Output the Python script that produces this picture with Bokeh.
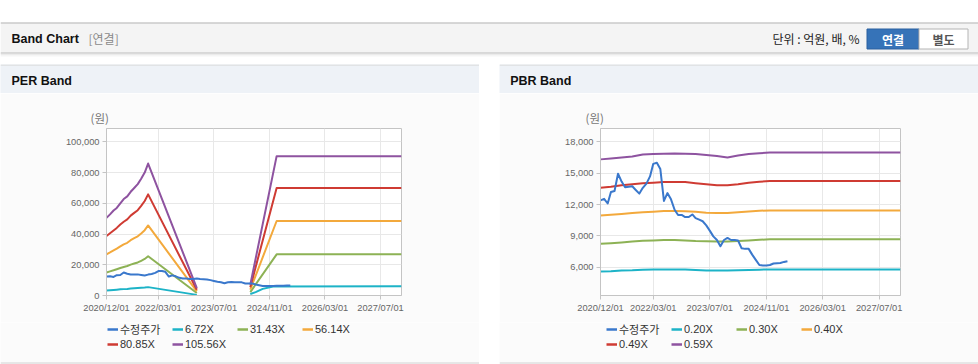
import numpy as np
import pandas as pd
from bokeh.plotting import figure
from bokeh.layouts import column, row
from bokeh.models import (Range1d, FixedTicker, DatetimeTickFormatter, NumeralTickFormatter,
                          Legend, LegendItem, Spacer)
from bokeh.embed import file_html
from bokeh.resources import INLINE
from bokeh.core.properties import value

# ---------------- data ----------------
X_START = "2020-12-01"
X_END = "2028-01-01"
X_TICKS = ["2020-12-01", "2022-03-01", "2023-07-01", "2024-11-01", "2026-03-01", "2027-07-01"]

PRICE_DATES = pd.date_range("2020-12-01", "2025-05-01", freq="MS")
PRICE = [12400, 12550, 12100, 13200, 13300, 14950, 14200, 13650, 13700, 13750, 13400, 13050,
         13600, 14000, 14700, 15900, 16000, 15400, 12350, 13100, 12500, 11500, 11000, 11000,
         10800, 10800, 11050, 10700, 10550, 10400, 10000, 9500, 8950, 8600, 8000, 8600,
         8800, 8600, 8600, 8550, 7800, 7750, 7750, 7200, 6700, 6200, 6150, 6150,
         6200, 6350, 6380, 6400, 6500, 6570]

# PER band
PER_LABELS = ["6.72X", "31.43X", "56.14X", "80.85X", "105.56X"]
PER_DATES_A = ["2020-12-01", "2021-01-01", "2021-02-01", "2021-03-01", "2021-04-01", "2021-05-01",
               "2021-06-01", "2021-07-01", "2021-08-01", "2021-09-01", "2021-10-01", "2021-11-01",
               "2021-12-01", "2023-02-01"]
PER_GAP = "2023-10-01"
PER_DATES_B = ["2024-05-15", "2025-01-01", "2028-01-01"]
PER_CYAN_DATES_B = ["2024-05-15", "2024-07-01", "2024-09-01", "2024-12-01", "2028-01-01"]
PER_672_A = [3200, 3400, 3600, 3800, 4000, 4150, 4300, 4500, 4700, 4850, 5000, 5200, 5450, 400]
PER_672_B = [1000, 2200, 4300, 5900, 6100]
PER_3143_A = [15000, 15700, 16400, 17100, 17900, 18600, 19200, 20100, 20800, 21500, 22600, 23800, 25500, 1600]
PER_3143_B = [2200, 26800, 26800]
PER_5614_A = [26800, 28000, 29300, 30500, 32000, 33300, 34300, 36000, 37300, 38500, 40400, 42500, 45600, 2700]
PER_5614_B = [3800, 48500, 48500]
PER_8085_A = [38700, 40500, 42300, 44000, 46200, 48000, 49500, 52000, 53800, 55500, 58300, 61500, 65800, 3700]
PER_8085_B = [5400, 69900, 69900]
PER_10556_A = [50500, 52800, 55300, 57000, 60000, 62800, 64500, 67500, 70000, 72500, 76000, 80000, 85900, 4800]
PER_10556_B = [7000, 90700, 90700]
PER_YTICKS = [0, 20000, 40000, 60000, 80000, 100000]

# PBR band
PBR_LABELS = ["0.20X", "0.30X", "0.40X", "0.49X", "0.59X"]
PBR_DATES = ["2020-12-01", "2021-03-01", "2021-06-01", "2021-09-01", "2021-12-01", "2022-03-01",
             "2022-06-01", "2022-09-01", "2022-12-01", "2023-03-01", "2023-06-01", "2023-09-01",
             "2023-12-01", "2024-03-01", "2024-06-01", "2024-09-01", "2024-12-01", "2028-01-01"]
PBR_020 = [5580, 5600, 5680, 5700, 5760, 5780, 5780, 5780, 5780, 5720, 5680, 5680, 5680, 5700, 5720, 5760, 5780, 5780]
PBR_030 = [8240, 8300, 8370, 8450, 8520, 8560, 8600, 8600, 8560, 8500, 8470, 8450, 8450, 8500, 8560, 8620, 8680, 8680]
PBR_040 = [10950, 11020, 11100, 11180, 11250, 11320, 11370, 11370, 11350, 11300, 11220, 11180, 11180, 11250, 11330, 11400, 11440, 11440]
PBR_049 = [13620, 13700, 13850, 13950, 14050, 14100, 14150, 14150, 14150, 14050, 13950, 13850, 13850, 13950, 14100, 14180, 14250, 14250]
PBR_059 = [16330, 16420, 16520, 16600, 16800, 16840, 16880, 16900, 16880, 16850, 16750, 16650, 16520, 16700, 16850, 16920, 16980, 16980]
PBR_YTICKS = [6000, 9000, 12000, 15000, 18000]

PRICE_LABEL = "수정주가"
UNIT_LABEL = "(원)"
COLORS = ["#1db3c7", "#8db255", "#f3a93c", "#cf3b33", "#8e53a0"]
PRICE_COLOR = "#3a78cc"

LATIN = "Liberation Sans"
KR = "Noto Sans CJK KR"
PANEL_BG = "#fbfbfb"


def dt(lst):
    return pd.to_datetime(lst)


def ms(d):
    return pd.Timestamp(d).value / 1e6


def join(dates_a, vals_a, dates_b, vals_b):
    x = list(dt(dates_a)) + [pd.Timestamp(PER_GAP)] + list(dt(dates_b))
    y = list(vals_a) + [np.nan] + list(vals_b)
    return x, y


def chart(width, bl, br, ymin, ymax, yticks, unit_dx):
    p = figure(width=width, height=229, x_axis_type="datetime",
               x_range=Range1d(pd.Timestamp(X_START), pd.Timestamp(X_END)),
               y_range=Range1d(ymin, ymax), output_backend="svg", toolbar_location=None,
               min_border_left=bl, min_border_right=br, min_border_top=35, min_border_bottom=27,
               frame_align=False, title=UNIT_LABEL)
    p.title.align = "left"
    p.title.offset = unit_dx
    p.title.standoff = 5
    p.title.text_font = KR
    p.title.text_font_size = "11.5px"
    p.title.text_font_style = "normal"
    p.title.text_color = "#777777"
    p.border_fill_color = PANEL_BG
    p.background_fill_color = "white"
    p.outline_line_color = "#c4c4c4"
    p.xaxis.ticker = FixedTicker(ticks=[ms(d) for d in X_TICKS])
    fmt = "%Y/%m/%d"
    p.xaxis.formatter = DatetimeTickFormatter(days=fmt, months=fmt, years=fmt, hours=fmt,
                                              minutes=fmt, seconds=fmt, milliseconds=fmt,
                                              minsec=fmt, hourmin=fmt)
    p.yaxis.ticker = FixedTicker(ticks=yticks)
    p.yaxis.formatter = NumeralTickFormatter(format="0,0")
    for ax in (p.xaxis, p.yaxis):
        ax.axis_line_color = "#c4c4c4"
        ax.major_tick_line_color = "#c4c4c4"
        ax.minor_tick_line_color = None
        ax.major_tick_in = 0
        ax.major_tick_out = 4
        ax.major_label_text_font = LATIN
        ax.major_label_text_font_size = "9.3px"
        ax.major_label_text_color = "#666666"
        ax.major_label_standoff = 3
    p.grid.grid_line_color = "#e8e8e8"
    return p


def legend_fig(labels, colors):
    lf = figure(width=479, height=42, x_range=Range1d(0, 479), y_range=Range1d(42, 0),
                output_backend="svg", toolbar_location=None, min_border=0,
                x_axis_location=None, y_axis_location=None, frame_align=False)
    lf.grid.visible = False
    lf.outline_line_color = None
    lf.background_fill_color = PANEL_BG
    lf.border_fill_color = PANEL_BG
    lf.segment(x0=0, y0=40.5, x1=479, y1=40.5, line_color="#d2d2d2", line_width=1)
    items = []
    for lab, c in zip(labels, colors):
        # legend key only: a line kept outside the visible range
        r = lf.line(x=[-50, -40], y=[-50, -40], line_color=c, line_width=2.5)
        items.append(LegendItem(label=lab, renderers=[r]))
    lg = Legend(items=items, ncols=4, orientation="horizontal", location=(107, 13),
                label_text_font=LATIN + ", " + KR, label_text_font_size="11px",
                label_text_color="#333333", glyph_width=11, glyph_height=14,
                label_height=14, label_width=52, label_standoff=2, spacing=0,
                padding=0, margin=0, border_line_color=None, background_fill_alpha=0)
    lf.add_layout(lg, "center")
    return lf


# ---------------- header ----------------
hdr = figure(width=978, height=64, x_range=(0, 978), y_range=(64, 0), output_backend="svg",
             toolbar_location=None, min_border=0, x_axis_location=None, y_axis_location=None,
             frame_align=False)
hdr.grid.visible = False
hdr.outline_line_color = None
hdr.background_fill_color = "white"
hdr.border_fill_color = "white"
hdr.quad(left=0, right=978, top=22, bottom=53, fill_color="#f4f4f4", line_color=None)
hdr.segment(x0=0, y0=22.5, x1=978, y1=22.5, line_color="#b4b4b4", line_width=1)
hdr.segment(x0=0, y0=52.5, x1=978, y1=52.5, line_color="#bcbcbc", line_width=1)
hdr.segment(x0=0, y0=53.5, x1=978, y1=53.5, line_color="#dadada", line_width=1)
hdr.segment(x0=0, y0=54.5, x1=978, y1=54.5, line_color="#ebebeb", line_width=1)
hdr.segment(x0=0, y0=55.5, x1=978, y1=55.5, line_color="#f5f5f5", line_width=1)
hdr.text(x=[11], y=[38], text=["Band Chart"], text_font=value(LATIN), text_font_style="bold",
         text_font_size="12.5px", text_color="#111111", text_baseline="middle")
hdr.text(x=[88], y=[38], text=["[연결]"], text_font=value(KR), text_font_size="12px",
         text_color="#8a8a8a", text_baseline="middle")
hdr.text(x=[859], y=[38], text=["단위 : 억원, 배, %"], text_font=value(KR), text_font_size="12px",
         text_color="#222222", text_baseline="middle", text_align="right")
hdr.quad(left=866.5, right=918.5, top=28.5, bottom=48.5, fill_color="#3673b8", line_color="#2b609f")
hdr.quad(left=918.5, right=967.5, top=28.5, bottom=48.5, fill_color="white", line_color="#b4b4b4")
hdr.text(x=[892.5], y=[38.5], text=["연결"], text_font=value(KR), text_font_style="bold",
         text_font_size="12px", text_color="white", text_baseline="middle", text_align="center")
hdr.text(x=[943], y=[38.5], text=["별도"], text_font=value(KR), text_font_style="bold",
         text_font_size="12px", text_color="#555555", text_baseline="middle", text_align="center")


def title_fig(text, tx):
    t = figure(width=479, height=29, x_range=(0, 479), y_range=(29, 0), output_backend="svg",
               toolbar_location=None, min_border=0, x_axis_location=None, y_axis_location=None,
               frame_align=False)
    t.grid.visible = False
    t.outline_line_color = None
    t.background_fill_color = "#eef2f7"
    t.border_fill_color = "#eef2f7"
    t.segment(x0=0, y0=0.5, x1=479, y1=0.5, line_color="#d4d4d4", line_width=1)
    t.text(x=[tx], y=[16], text=[text], text_font=value(LATIN), text_font_style="bold",
           text_font_size="12.5px", text_color="#111111", text_baseline="middle")
    return t


# ---------------- PER chart ----------------
per = chart(479, 106, 78, 0, 108700, PER_YTICKS, -16)
per_series = [(PER_672_A, PER_672_B, PER_CYAN_DATES_B), (PER_3143_A, PER_3143_B, PER_DATES_B),
              (PER_5614_A, PER_5614_B, PER_DATES_B), (PER_8085_A, PER_8085_B, PER_DATES_B),
              (PER_10556_A, PER_10556_B, PER_DATES_B)]
for (va, vb, db), c in zip(per_series, COLORS):
    x, y = join(PER_DATES_A, va, db, vb)
    per.line(x, y, line_color=c, line_width=2, line_join="round")
per.line(PRICE_DATES, PRICE, line_color=PRICE_COLOR, line_width=2, line_join="round")
per_leg = legend_fig([PRICE_LABEL] + PER_LABELS, [PRICE_COLOR] + COLORS)

# ---------------- PBR chart ----------------
pbr = chart(479, 101, 78, 3280, 19290, PBR_YTICKS, -15)
for vals, c in zip([PBR_020, PBR_030, PBR_040, PBR_049, PBR_059], COLORS):
    pbr.line(dt(PBR_DATES), vals, line_color=c, line_width=2, line_join="round")
pbr.line(PRICE_DATES, PRICE, line_color=PRICE_COLOR, line_width=2, line_join="round")
pbr_leg = legend_fig([PRICE_LABEL] + PBR_LABELS, [PRICE_COLOR] + COLORS)

left = column(title_fig("PER Band", 11), per, per_leg, spacing=0)
right = column(title_fig("PBR Band", 10.7), pbr, pbr_leg, spacing=0)
layout = column(hdr, row(left, Spacer(width=20, height=300), right, spacing=0), spacing=0)

open("out.html", "w").write(file_html(layout, INLINE))
